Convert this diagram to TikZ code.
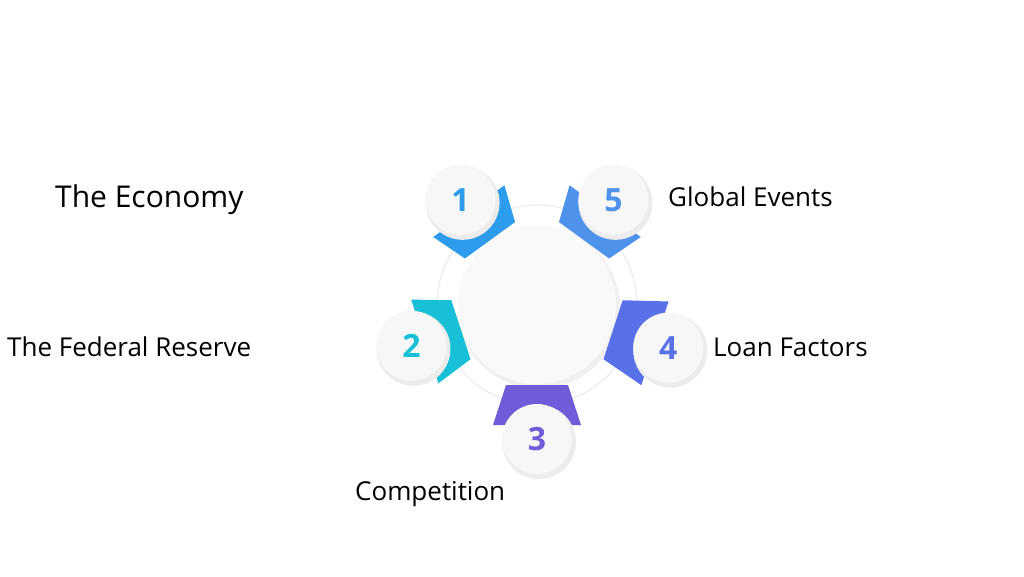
\documentclass[tikz,border=0pt]{standalone}
\usepackage{fontspec}
\setmainfont{Open Sans}
\begin{document}
\begin{tikzpicture}[x=1pt,y=1pt,
  num/.style={circle,minimum size=70pt,fill=gray!6,font=\fontsize{32}{32}\selectfont\bfseries,inner sep=0pt},
  lbl/.style={anchor=west,inner sep=0pt,font=\fontsize{26}{28}\selectfont}]
\useasboundingbox (0,0) rectangle (1024,576);
\fill[white] (0,0) rectangle (1024,576);
\definecolor{c1}{HTML}{2E9CEC}\definecolor{c5}{HTML}{4E92EC}
\definecolor{c2}{HTML}{17C0D6}\definecolor{c4}{HTML}{5870E8}\definecolor{c3}{HTML}{6E5CD8}
\coordinate (C) at (537,271);
\draw[gray!15,line width=1.2pt] (C) circle (100);
\fill[gray!12] ([shift={(2,-3)}]C) circle (81);
\fill[gray!5] (C) circle (79);
\foreach \a/\c/\n/\d in {126/c1/1/130,54/c5/5/130,198/c2/2/132,342/c4/4/138,270/c3/3/134}{
  \begin{scope}[shift={(C)},rotate=\a]
    \fill[\c] (80,-31) -- (\d-14,-44) -- (\d-14,44) -- (80,31) -- cycle;
  \end{scope}
}
\foreach \a/\c/\n/\d in {126/c1/1/130,54/c5/5/130,198/c2/2/132,342/c4/4/138,270/c3/3/134}{
  \fill[gray!15] ([shift={(\a:\d)}]C) ++(2,-3) circle (37);
  \node[num,text=\c] (n\n) at ([shift={(\a:\d)}]C) {\n};
}
\node[lbl,font=\fontsize{30}{32}\selectfont] (t1) at (55,376) {The Economy};
\node[lbl] (t5) at (668,379) {Global Events};
\node[lbl] (t2) at (7,229) {The Federal Reserve};
\node[lbl] (t4) at (713,229) {Loan Factors};
\node[lbl] (t3) at (355,82) {Competition};
\end{tikzpicture}
\end{document}
